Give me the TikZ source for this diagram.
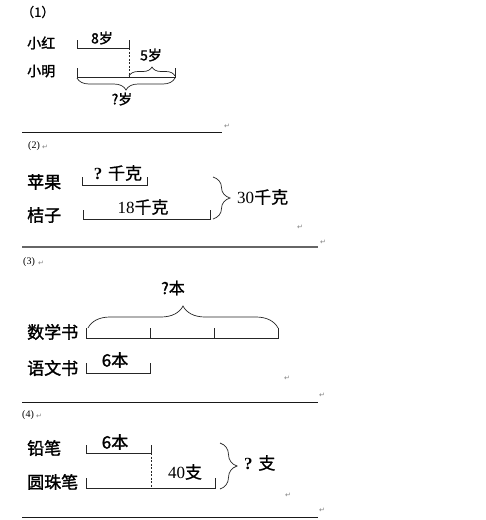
\documentclass[tikz,border=0pt]{standalone}
\usepackage{fontspec}
\setmainfont{Liberation Serif}
\newfontfamily\cjk[FakeBold=1.6]{Noto Sans CJK SC}
\newfontfamily\cjkthin[FakeBold=0.8]{Noto Sans CJK SC}
\newfontfamily\symb{DejaVu Sans}
\usetikzlibrary{decorations.pathreplacing,positioning}
\newcommand{\fs}[1]{\fontsize{#1}{#1}\selectfont}
\tikzset{
  bar/.style={draw=black!85, line width=0.8pt},
  cut/.style={draw=black!85, line width=0.6pt, dash pattern=on 2pt off 1.5pt},
  rule/.style={draw=black!90, line width=0.8pt},
  who/.style={font=\cjk\fs{#1}, anchor=west, inner sep=0pt},
  lbl/.style={font=\cjk\fs{#1}, inner sep=0pt},
  num/.style={font=\rmfamily\fs{#1}, inner sep=0pt},
  part/.style={font=\rmfamily\fs{10}, anchor=west, inner sep=0pt},
  ret/.style={font=\symb\fs{7}, text=black!50, inner sep=0pt},
  brc/.style={draw=black!85, line width=0.7pt, decorate,
    decoration={brace, amplitude=#1}}
}

\begin{document}
\begin{tikzpicture}[x=1pt, y=-1pt]
  \useasboundingbox (0,0) rectangle (486,520);

  % (1)
  \node[lbl=12, anchor=west, font=\cjkthin\fs{13}] (t1) at (21,12) {（1）};
  \node[who=14] (xh) at (27,43) {小红};
  \node[who=14] (xm) at (27,71) {小明};
  \coordinate (a0) at (77,48);
  \coordinate (a1) at (129,48);
  \coordinate (b0) at (77,77);
  \coordinate (b1) at (129,77);
  \coordinate (b2) at (175,77);
  \draw[bar] (a0) ++(0,-8) -- (a0) -- (a1) -- ++(0,-8);
  \draw[bar] (b0) ++(0,-9) -- (b0) -- (b2) -- ++(0,-9);
  \draw[cut] (a1) -- (b1);
  \draw[brc=9] ([yshift=1pt]b1) -- ([yshift=1pt]b2);
  \draw[brc=12] ([yshift=-1pt]b2) -- ([yshift=-1pt]b0);
  \node[lbl=14] (l8) at (102,38) {8岁};
  \node[lbl=14] (l5) at (151,55) {5岁};
  \node[lbl=14] (lq) at (122,99) {?岁};
  \coordinate (r1a) at (22,132);
  \coordinate (r1b) at (222,132);
  \draw[rule] (r1a) -- (r1b);

  % (2)
  \node[part] (t2) at (28,146) {(2)};
  \node[who=17] (pg) at (27,182) {苹果};
  \node[who=17] (jz) at (27,215) {桔子};
  \coordinate (c0) at (82,185);
  \coordinate (c1) at (147,185);
  \coordinate (d0) at (83,219);
  \coordinate (d1) at (210,219);
  \draw[bar] (c0) ++(0,-8) -- (c0) -- (c1) -- ++(0,-8);
  \draw[bar] (d0) ++(0,-9) -- (d0) -- (d1) -- ++(0,-9);
  \draw[brc=17] (213,177) -- (213,219);
  \node[num=17] (lpg) at (118,173) {\textbf{?} {\cjkthin 千克}};
  \node[num=17] (ljz) at (143,207) {18{\cjkthin 千克}};
  \node[num=17, anchor=west] (lsum) at (237,197) {30{\cjkthin 千克}};
  \coordinate (r2a) at (22,247);
  \coordinate (r2b) at (318,247);
  \draw[rule, draw=black!60, line width=2pt] (r2a) -- (r2b);

  % (3)
  \node[part] (t3) at (23,262) {(3)};
  \node[who=17] (sx) at (27,332) {数学书};
  \node[who=17] (yw) at (27,368) {语文书};
  \coordinate (m0) at (86,338);
  \coordinate (m3) at (278,338);
  \draw[bar] (m0) ++(0,-10) -- (m0) -- (m3) -- ++(0,-10);
  \foreach \x [count=\i] in {150,214}
    \draw[bar] (\x,338) -- (\x,328);
  \draw[brc=22] (88,328) -- (278,328);
  \node[lbl=16] (lsx) at (173,288) {?本};
  \coordinate (e0) at (86,373);
  \coordinate (e1) at (150,373);
  \draw[bar] (e0) ++(0,-10) -- (e0) -- (e1) -- ++(0,-10);
  \node[lbl=17] (lyw) at (115,360) {6本};
  \coordinate (r3a) at (22,402);
  \coordinate (r3b) at (318,402);
  \draw[rule] (r3a) -- (r3b);

  % (4)
  \node[part] (t4) at (22,415) {(4)};
  \node[who=17] (qb) at (27,448) {铅笔};
  \node[who=17] (yz) at (27,482) {圆珠笔};
  \coordinate (f0) at (86,453);
  \coordinate (f1) at (151,453);
  \coordinate (g0) at (86,488);
  \coordinate (g1) at (151,488);
  \coordinate (g2) at (215,488);
  \draw[bar] (f0) ++(0,-8) -- (f0) -- (f1) -- ++(0,-8);
  \draw[bar] (g0) ++(0,-10) -- (g0) -- (g2) -- ++(0,-10);
  \draw[cut] (f1) -- (g1);
  \draw[brc=17] (220,443) -- (220,489);
  \node[lbl=17] (lqb) at (115,442) {6本};
  \node[num=17] (lyz) at (185,472) {40{\cjkthin 支}};
  \node[num=17, anchor=west] (lall) at (244,463) {\textbf{?} {\cjkthin 支}};
  \coordinate (r4a) at (22,517);
  \coordinate (r4b) at (318,517);
  \draw[rule] (r4a) -- (r4b);

  % return marks
  \foreach \x/\y [count=\i] in {227/126, 45/147, 300/227, 323/242, 41/263,
      287/378, 322/395, 39/416, 288/495, 322/510}
    \node[ret] (ret\i) at (\x,\y) {↵};
\end{tikzpicture}
\end{document}
